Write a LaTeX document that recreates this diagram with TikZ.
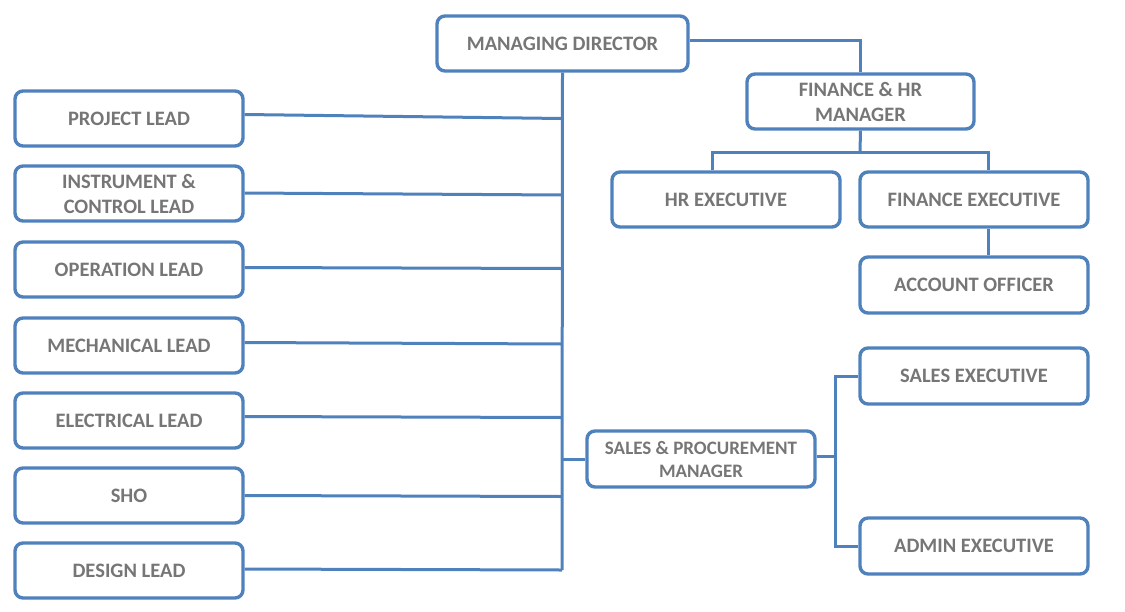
\documentclass[tikz,border=0pt]{standalone}
\usepackage{fontspec}
\setmainfont{Carlito}
\definecolor{boxblue}{HTML}{4F81BD}
\definecolor{txtgray}{HTML}{767676}
\begin{document}
\begin{tikzpicture}[x=1pt,y=-1pt,
  orgbox/.style={draw=boxblue,line width=3.4pt,rounded corners=8pt,fill=white,
    minimum width=228pt,minimum height=55pt,inner sep=0pt,align=center,
    text=txtgray,font=\fontsize{20.5}{25}\selectfont\bfseries},
  smalltext/.style={font=\fontsize{19}{23}\selectfont\bfseries},
  link/.style={draw=boxblue,line width=3pt}]
\useasboundingbox (0,0) rectangle (1125,611);
% nodes
\node[orgbox,minimum width=251pt] (md) at (562.5,43.5) {MANAGING DIRECTOR};
\node[orgbox,minimum width=227pt] (fhr) at (860.5,101.5) {FINANCE \& HR\\MANAGER};
\node[orgbox] (hr) at (726,199.5) {HR EXECUTIVE};
\node[orgbox] (fe) at (974,199.5) {FINANCE EXECUTIVE};
\node[orgbox,minimum height=56pt] (ao) at (974,285) {ACCOUNT OFFICER};
\node[orgbox,minimum height=56pt] (se) at (974,376) {SALES EXECUTIVE};
\node[orgbox,minimum height=56pt] (ae) at (974,546) {ADMIN EXECUTIVE};
\node[orgbox,smalltext,minimum height=56pt] (sp) at (701,459) {SALES \& PROCUREMENT\\MANAGER};
\node[orgbox] (pl) at (129,118.5) {PROJECT LEAD};
\node[orgbox] (ic) at (129,193.5) {INSTRUMENT \&\\CONTROL LEAD};
\node[orgbox] (ol) at (129,269.5) {OPERATION LEAD};
\node[orgbox] (ml) at (129,345.5) {MECHANICAL LEAD};
\node[orgbox] (el) at (129,420.5) {ELECTRICAL LEAD};
\node[orgbox] (sho) at (129,495.5) {SHO};
\node[orgbox] (dl) at (129,570.5) {DESIGN LEAD};
% helper coordinates
\coordinate (trunkend) at (562,570);
\coordinate (fhrbus) at (860,152);
\coordinate (hrx) at (712,0);
\coordinate (fex) at (988,0);
\coordinate (spbus) at (835,456);
% connectors
\draw[link] ([yshift=3pt]md.east) -| (fhr.north);
\draw[link] (md.south) -- (trunkend);
\draw[link] (fhr.south) -- (fhrbus);
\draw[link] (hr.north -| hrx) |- (fhrbus) -| (fe.north -| fex);
\draw[link] (fe.south -| fex) -- (ao.north -| fex);
\draw[link] ([yshift=4pt]pl.east) -- (pl.east -| trunkend);
\draw[link] ([yshift=0.5pt]ic.east) -- ([yshift=-1.5pt]ic.east -| trunkend);
\draw[link] ([yshift=2pt]ol.east) -- ([yshift=1pt]ol.east -| trunkend);
\draw[link] ([yshift=3pt]ml.east) -- ([yshift=1.5pt]ml.east -| trunkend);
\draw[link] ([yshift=4pt]el.east) -- ([yshift=3pt]el.east -| trunkend);
\draw[link] (sho.east) -- ([yshift=-1pt]sho.east -| trunkend);
\draw[link] ([yshift=1.5pt]dl.east) -- ([yshift=0.5pt]dl.east -| trunkend);
\draw[link] (sp.west -| trunkend) -- (sp.west);
\draw[link] ([yshift=3pt]sp.east) -- ([yshift=3pt]sp.east -| spbus);
\draw[link] (se.west) -- (se.west -| spbus) -- (ae.west -| spbus) -- (ae.west);
\end{tikzpicture}
\end{document}
